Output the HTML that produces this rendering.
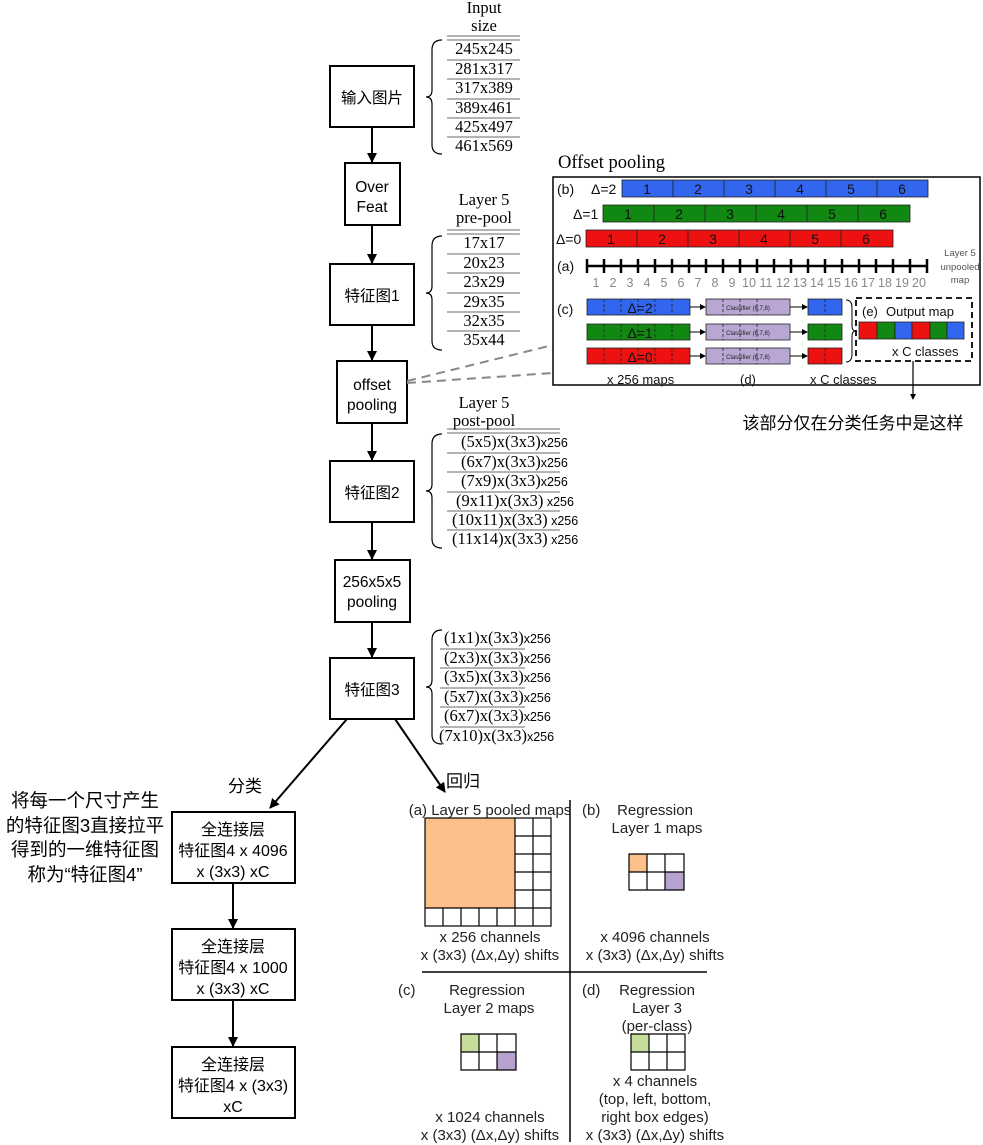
<!DOCTYPE html>
<html><head><meta charset="utf-8"><style>
html,body{margin:0;padding:0;background:#fff;}
svg{display:block;}
.s{font-family:"Liberation Sans","Noto Sans CJK SC",sans-serif;}
.r{font-family:"Liberation Serif","Noto Serif CJK SC",serif;}
</style></head><body>
<svg width="983" height="1145" viewBox="0 0 983 1145" xmlns="http://www.w3.org/2000/svg">
<defs>
<marker id="ah" markerWidth="10" markerHeight="10" refX="9" refY="5" orient="auto" markerUnits="userSpaceOnUse"><path d="M0,0 L10,5 L0,10 z" fill="#000"/></marker>
<marker id="as" markerWidth="6" markerHeight="6" refX="5" refY="3" orient="auto" markerUnits="userSpaceOnUse"><path d="M0,0 L6,3 L0,6 z" fill="#000"/></marker>
</defs>
<g fill="none" stroke="#000" stroke-width="2">
<rect x="330" y="66" width="84" height="61"/>
<rect x="345" y="163" width="55" height="62"/>
<rect x="330" y="264" width="84" height="61"/>
<rect x="337" y="361" width="70" height="62"/>
<rect x="330" y="461" width="84" height="61"/>
<rect x="335" y="560" width="75" height="62"/>
<rect x="330" y="658" width="84" height="61"/>
<rect x="172" y="812" width="123" height="71"/>
<rect x="172" y="929" width="123" height="71"/>
<rect x="172" y="1047" width="123" height="71"/>
</g>
<g stroke="#000" stroke-width="2" marker-end="url(#ah)">
<line x1="372" y1="127" x2="372" y2="162"/>
<line x1="372" y1="225" x2="372" y2="263"/>
<line x1="372" y1="325" x2="372" y2="360"/>
<line x1="372" y1="423" x2="372" y2="460"/>
<line x1="372" y1="522" x2="372" y2="559"/>
<line x1="372" y1="622" x2="372" y2="657"/>
<line x1="347" y1="719" x2="270" y2="808"/>
<line x1="395" y1="719" x2="445" y2="792"/>
<line x1="233" y1="883" x2="233" y2="928"/>
<line x1="233" y1="1000" x2="233" y2="1046"/>
</g>
<g class="s" font-size="15.5" text-anchor="middle" fill="#000">
<text x="372" y="103">输入图片</text>
<text x="372" y="192">Over</text><text x="372" y="212">Feat</text>
<text x="372" y="301">特征图1</text>
<text x="372" y="390">offset</text><text x="372" y="410">pooling</text>
<text x="372" y="498">特征图2</text>
<text x="372" y="587">256x5x5</text><text x="372" y="607">pooling</text>
<text x="372" y="695">特征图3</text>
</g>
<g class="s" font-size="16" text-anchor="middle" fill="#000">
<text x="233" y="835">全连接层</text><text x="233" y="856">特征图4 x 4096</text><text x="233" y="877">x (3x3) xC</text>
<text x="233" y="952">全连接层</text><text x="233" y="973">特征图4 x 1000</text><text x="233" y="994">x (3x3) xC</text>
<text x="233" y="1070">全连接层</text><text x="233" y="1091">特征图4 x (3x3)</text><text x="233" y="1112">xC</text>
</g>
<g class="s" font-size="18.5" text-anchor="middle">
<text x="85" y="807">将每一个尺寸产生</text>
<text x="85" y="832">的特征图3直接拉平</text>
<text x="85" y="856">得到的一维特征图</text>
<text x="85" y="881">称为“特征图4”</text>
</g>
<g class="s" font-size="17" text-anchor="middle">
<text x="245" y="792">分类</text>
<text x="463" y="787">回归</text>
<text x="853" y="429">该部分仅在分类任务中是这样</text>
</g>
<!-- braces -->
<g fill="none" stroke="#000" stroke-width="1.2">
<path d="M442,40 Q432,40 432,50 L432,90 Q432,97 426,97 Q432,97 432,104 L432,145 Q432,154 442,154"/>
<path d="M442,236 Q432,236 432,246 L432,286 Q432,293 426,293 Q432,293 432,300 L432,341 Q432,350 442,350"/>
<path d="M442,434 Q432,434 432,444 L432,484 Q432,491 426,491 Q432,491 432,498 L432,539 Q432,548 442,548"/>
<path d="M442,630 Q432,630 432,640 L432,680 Q432,687 426,687 Q432,687 432,694 L432,735 Q432,744 442,744"/>
</g>
<!-- table lines -->
<g stroke="#888" stroke-width="1.3">
<line x1="447" y1="36" x2="520" y2="36"/><line x1="447" y1="40" x2="520" y2="40"/>
<line x1="447" y1="60" x2="520" y2="60"/><line x1="447" y1="79" x2="520" y2="79"/><line x1="447" y1="99" x2="520" y2="99"/><line x1="447" y1="118" x2="520" y2="118"/><line x1="447" y1="137" x2="520" y2="137"/>
<line x1="447" y1="230" x2="520" y2="230"/><line x1="447" y1="234" x2="520" y2="234"/>
<line x1="447" y1="254" x2="520" y2="254"/><line x1="447" y1="273" x2="520" y2="273"/><line x1="447" y1="293" x2="520" y2="293"/><line x1="447" y1="312" x2="520" y2="312"/><line x1="447" y1="331" x2="520" y2="331"/>
<line x1="447" y1="429" x2="560" y2="429"/><line x1="447" y1="433" x2="560" y2="433"/>
<line x1="447" y1="453" x2="560" y2="453"/><line x1="447" y1="472" x2="560" y2="472"/><line x1="447" y1="492" x2="560" y2="492"/><line x1="447" y1="511" x2="560" y2="511"/><line x1="447" y1="530" x2="560" y2="530"/>
<line x1="440" y1="649" x2="525" y2="649"/><line x1="440" y1="668" x2="525" y2="668"/><line x1="440" y1="688" x2="525" y2="688"/><line x1="440" y1="707" x2="525" y2="707"/><line x1="440" y1="727" x2="525" y2="727"/>
</g>
<g class="r" font-size="16.5" text-anchor="middle">
<text x="484" y="13">Input</text><text x="484" y="31">size</text>
<text x="484" y="54">245x245</text><text x="484" y="74">281x317</text><text x="484" y="93">317x389</text><text x="484" y="113">389x461</text><text x="484" y="132">425x497</text><text x="484" y="151">461x569</text>
<text x="484" y="205">Layer 5</text><text x="484" y="223">pre-pool</text>
<text x="484" y="248">17x17</text><text x="484" y="268">20x23</text><text x="484" y="287">23x29</text><text x="484" y="307">29x35</text><text x="484" y="326">32x35</text><text x="484" y="345">35x44</text>
<text x="484" y="408">Layer 5</text><text x="484" y="426">post-pool</text>
</g>
<g class="r" font-size="16.5">
<text x="461" y="447">(5x5)x(3x3)<tspan class="s" font-size="12.5">x256</tspan></text>
<text x="461" y="467">(6x7)x(3x3)<tspan class="s" font-size="12.5">x256</tspan></text>
<text x="461" y="486">(7x9)x(3x3)<tspan class="s" font-size="12.5">x256</tspan></text>
<text x="456" y="506">(9x11)x(3x3)<tspan class="s" font-size="12.5"> x256</tspan></text>
<text x="452" y="525">(10x11)x(3x3)<tspan class="s" font-size="12.5"> x256</tspan></text>
<text x="452" y="544">(11x14)x(3x3)<tspan class="s" font-size="12.5"> x256</tspan></text>
<text x="444" y="643">(1x1)x(3x3)<tspan class="s" font-size="12.5">x256</tspan></text>
<text x="444" y="663">(2x3)x(3x3)<tspan class="s" font-size="12.5">x256</tspan></text>
<text x="444" y="682">(3x5)x(3x3)<tspan class="s" font-size="12.5">x256</tspan></text>
<text x="444" y="702">(5x7)x(3x3)<tspan class="s" font-size="12.5">x256</tspan></text>
<text x="444" y="721">(6x7)x(3x3)<tspan class="s" font-size="12.5">x256</tspan></text>
<text x="439" y="741">(7x10)x(3x3)<tspan class="s" font-size="12.5">x256</tspan></text>
<text x="558" y="168" font-size="18.5">Offset pooling</text>
</g>
<!-- dashed connectors -->
<g stroke="#888" stroke-width="2" stroke-dasharray="9,6">
<line x1="407" y1="381" x2="553" y2="345"/>
<line x1="407" y1="383" x2="553" y2="373"/>
</g>
<!-- offset pooling box -->
<rect x="553" y="177" width="427" height="208" fill="#fff" stroke="#000" stroke-width="1.5"/>
<g stroke="#222" stroke-width="0.8">
<rect x="622" y="180" width="306" height="17" fill="#3366ee"/>
<rect x="603" y="205" width="307" height="17" fill="#118811"/>
<rect x="586" y="230" width="307" height="17" fill="#ee1111"/>
<path d="M673,180v17M724,180v17M775,180v17M826,180v17M877,180v17"/>
<path d="M654,205v17M705,205v17M756,205v17M807,205v17M858,205v17"/>
<path d="M637,230v17M688,230v17M739,230v17M790,230v17M841,230v17"/>
</g>
<g class="s" font-size="14" text-anchor="middle" fill="#111">
<text x="647" y="194">1</text><text x="698" y="194">2</text><text x="749" y="194">3</text><text x="800" y="194">4</text><text x="851" y="194">5</text><text x="902" y="194">6</text>
<text x="628" y="219">1</text><text x="679" y="219">2</text><text x="730" y="219">3</text><text x="781" y="219">4</text><text x="832" y="219">5</text><text x="883" y="219">6</text>
<text x="611" y="244">1</text><text x="662" y="244">2</text><text x="713" y="244">3</text><text x="764" y="244">4</text><text x="815" y="244">5</text><text x="866" y="244">6</text>
</g>
<g class="s" font-size="14" fill="#111">
<text x="557" y="194">(b)</text><text x="591" y="194">Δ=2</text>
<text x="573" y="219">Δ=1</text>
<text x="556" y="244">Δ=0</text>
<text x="557" y="271">(a)</text>
<text x="557" y="314">(c)</text>
</g>
<g stroke="#000" stroke-width="2.5">
<line x1="587" y1="266" x2="928" y2="266"/>
<path d="M587,259v14M604,259v14M621,259v14M638,259v14M655,259v14M672,259v14M689,259v14M706,259v14M723,259v14M740,259v14M757,259v14M774,259v14M791,259v14M808,259v14M825,259v14M842,259v14M859,259v14M876,259v14M893,259v14M910,259v14M927,259v14"/>
</g>
<g class="s" font-size="12.5" fill="#888" text-anchor="middle">
<text x="596" y="287">1</text><text x="613" y="287">2</text><text x="630" y="287">3</text><text x="647" y="287">4</text><text x="664" y="287">5</text><text x="681" y="287">6</text><text x="698" y="287">7</text><text x="715" y="287">8</text><text x="732" y="287">9</text><text x="749" y="287">10</text><text x="766" y="287">11</text><text x="783" y="287">12</text><text x="800" y="287">13</text><text x="817" y="287">14</text><text x="834" y="287">15</text><text x="851" y="287">16</text><text x="868" y="287">17</text><text x="885" y="287">18</text><text x="902" y="287">19</text><text x="919" y="287">20</text>
</g>
<g class="s" font-size="9.5" fill="#555" text-anchor="middle">
<text x="960" y="256">Layer 5</text><text x="960" y="270">unpooled</text><text x="960" y="283">map</text>
</g>
<!-- (c) rows -->
<g stroke="#222" stroke-width="0.8">
<rect x="587" y="299" width="103" height="16" fill="#3366ee"/>
<rect x="587" y="324" width="103" height="16" fill="#118811"/>
<rect x="587" y="348" width="103" height="16" fill="#ee1111"/>
<rect x="706" y="299" width="84" height="16" fill="#b9a6d2"/>
<rect x="706" y="324" width="84" height="16" fill="#b9a6d2"/>
<rect x="706" y="348" width="84" height="16" fill="#b9a6d2"/>
<rect x="808" y="299" width="34" height="16" fill="#3366ee"/>
<rect x="808" y="324" width="34" height="16" fill="#118811"/>
<rect x="808" y="348" width="34" height="16" fill="#ee1111"/>
</g>
<g stroke="#222" stroke-width="0.8" stroke-dasharray="3,2">
<path d="M604,299v16M621,299v16M638,299v16M655,299v16M672,299v16M604,324v16M621,324v16M638,324v16M655,324v16M672,324v16M604,348v16M621,348v16M638,348v16M655,348v16M672,348v16M825,299v16M825,324v16M825,348v16"/>
<path d="M723,299v16M740,299v16M757,299v16M723,324v16M740,324v16M757,324v16M723,348v16M740,348v16M757,348v16"/>
</g>
<g class="s" font-size="14" fill="#111" text-anchor="middle">
<text x="640" y="313">Δ=2</text><text x="640" y="338">Δ=1</text><text x="640" y="362">Δ=0</text>
</g>
<g class="s" font-size="6" fill="#222" text-anchor="middle">
<text x="748" y="310">Classifier (6,7,8)</text><text x="748" y="335">Classifier (6,7,8)</text><text x="748" y="359">Classifier (6,7,8)</text>
</g>
<g stroke="#000" stroke-width="1" marker-end="url(#as)">
<line x1="690" y1="307" x2="705" y2="307"/><line x1="690" y1="332" x2="705" y2="332"/><line x1="690" y1="356" x2="705" y2="356"/>
<line x1="790" y1="307" x2="807" y2="307"/><line x1="790" y1="332" x2="807" y2="332"/><line x1="790" y1="356" x2="807" y2="356"/>
</g>
<path d="M846,300 Q852,300 852,308 L852,326 Q852,331 856,331 Q852,331 852,336 L852,354 Q852,362 846,362" fill="none" stroke="#000" stroke-width="1"/>
<rect x="856" y="298" width="116" height="63" fill="none" stroke="#000" stroke-width="1.8" stroke-dasharray="6,4"/>
<g stroke="#222" stroke-width="0.8">
<rect x="859" y="322" width="18" height="17" fill="#ee1111"/><rect x="877" y="322" width="18" height="17" fill="#118811"/><rect x="895" y="322" width="17" height="17" fill="#3366ee"/><rect x="912" y="322" width="18" height="17" fill="#ee1111"/><rect x="930" y="322" width="17" height="17" fill="#118811"/><rect x="947" y="322" width="17" height="17" fill="#3366ee"/>
</g>
<g class="s" font-size="13" fill="#111">
<text x="862" y="316">(e)</text><text x="886" y="316">Output map</text>
<text x="892" y="356">x C classes</text>
<text x="607" y="384">x 256 maps</text><text x="740" y="384">(d)</text><text x="810" y="384">x C classes</text>
</g>
<line x1="913" y1="361" x2="913" y2="399" stroke="#000" stroke-width="1.2" marker-end="url(#as)"/>
<!-- regression quadrant -->
<g stroke="#000" stroke-width="1.5">
<line x1="570" y1="800" x2="570" y2="1142"/>
<line x1="422" y1="972" x2="707" y2="972"/>
</g>
<rect x="425" y="818" width="90" height="90" fill="#fbbf89"/>
<g fill="none" stroke="#000" stroke-width="1.2">
<rect x="425" y="818" width="126" height="108"/>
<path d="M515,818v108M533,818v108M425,908h126M443,908v18M461,908v18M479,908v18M497,908v18M515,836h36M515,854h36M515,872h36M515,890h36"/>
</g>
<rect x="629" y="854" width="18" height="18" fill="#fbbf89"/><rect x="665" y="872" width="19" height="18" fill="#b7a2cf"/>
<path d="M629,854h55v36h-55zM647,854v36M665,854v36M629,872h55" fill="none" stroke="#000" stroke-width="1.2"/>
<rect x="461" y="1034" width="18" height="18" fill="#c5dc9b"/><rect x="497" y="1052" width="19" height="18" fill="#b7a2cf"/>
<path d="M461,1034h55v36h-55zM479,1034v36M497,1034v36M461,1052h55" fill="none" stroke="#000" stroke-width="1.2"/>
<rect x="631" y="1034" width="18" height="18" fill="#c5dc9b"/>
<path d="M631,1034h54v36h-54zM649,1034v36M667,1034v36M631,1052h54" fill="none" stroke="#000" stroke-width="1.2"/>
<g class="s" font-size="15" fill="#222" text-anchor="middle">
<text x="490" y="815">(a) Layer 5 pooled maps</text>
<text x="490" y="942">x 256 channels</text><text x="490" y="960">x (3x3) (Δx,Δy) shifts</text>
<text x="655" y="815">Regression</text><text x="657" y="833">Layer 1 maps</text>
<text x="655" y="942">x 4096 channels</text><text x="655" y="960">x (3x3) (Δx,Δy) shifts</text>
<text x="487" y="995">Regression</text><text x="489" y="1013">Layer 2 maps</text>
<text x="490" y="1122">x 1024 channels</text><text x="490" y="1140">x (3x3) (Δx,Δy) shifts</text>
<text x="657" y="995">Regression</text><text x="657" y="1013">Layer 3</text><text x="657" y="1031">(per-class)</text>
<text x="655" y="1086">x 4 channels</text><text x="655" y="1104">(top, left, bottom,</text><text x="655" y="1122">right box edges)</text><text x="655" y="1140">x (3x3) (Δx,Δy) shifts</text>
</g>
<g class="s" font-size="15" fill="#222">
<text x="582" y="815">(b)</text><text x="398" y="995">(c)</text><text x="582" y="995">(d)</text>
</g>
</svg>
</body></html>
